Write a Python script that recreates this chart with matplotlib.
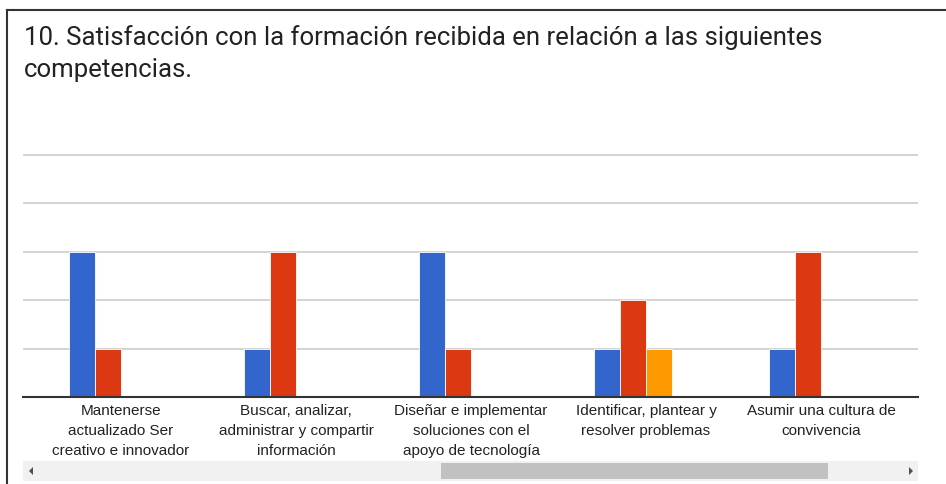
import matplotlib
matplotlib.use('Agg')
import matplotlib.pyplot as plt
from matplotlib.patches import Rectangle, Polygon
from matplotlib.lines import Line2D
import numpy as np

categories = ['Mantenerse\nactualizado Ser\ncreativo e innovador',
              'Buscar, analizar,\nadministrar y compartir\ninformación',
              'Diseñar e implementar\nsoluciones con el\napoyo de tecnología',
              'Identificar, plantear y\nresolver problemas',
              'Asumir una cultura de\nconvivencia']
blue_vals = [3, 1, 3, 1, 1]
red_vals = [1, 3, 1, 2, 3]
orange_vals = [0, 0, 0, 1, 0]
colors = ['#3366cc', '#dc3912', '#ff9900']

W, H = 946, 484
fig = plt.figure(figsize=(W / 100, H / 100), dpi=100)
fig.patch.set_facecolor('white')

# plot area in pixels (one unit = 48.4 px)
x0, x1 = 23, 918
y_top, y_base = 151, 397
unit = (y_base - 155) / 5
ax = fig.add_axes([x0 / W, 1 - y_base / H, (x1 - x0) / W, (y_base - y_top) / H])

x = np.arange(len(categories))
bw = 26 / 175
for k, (vals, c) in enumerate(zip([blue_vals, red_vals, orange_vals], colors)):
    ax.bar(x + (k - 1.5) * bw, vals, width=bw, color=c,
           edgecolor='white', linewidth=0.6, zorder=3)

first_center = (121 - x0) / 175
ax.set_xlim(-first_center, -first_center + (x1 - x0) / 175)
ax.set_ylim(0, (y_base - y_top) / unit)
ax.set_yticks([1, 2, 3, 4, 5])
ax.set_yticklabels([])
ax.grid(axis='y', color='#cccccc', linewidth=1.2, zorder=0)
ax.tick_params(length=0)
for s in ['top', 'right', 'left']:
    ax.spines[s].set_visible(False)
ax.spines['bottom'].set_color('#333333')
ax.spines['bottom'].set_linewidth(1.5)
ax.spines['bottom'].set_zorder(4)
ax.set_xticks(x)
ax.set_xticklabels(categories, fontsize=11, color='#222222', family='Liberation Sans',
                   linespacing=1.56, va='top')
ax.tick_params(axis='x', pad=5)

fig.text(24 / W, 1 - 25 / H, '10. Satisfacción con la formación recibida en relación a las siguientes\ncompetencias.',
         fontsize=18.5, family='Roboto', color='#222222', va='top', linespacing=1.42)

# frame lines
fig.add_artist(Line2D([7 / W, 7 / W], [0, 1 - 10 / H], color='#333333', linewidth=1.5))
fig.add_artist(Line2D([7 / W, 1], [1 - 10 / H, 1 - 10 / H], color='#333333', linewidth=1.5))

# scrollbar
fig.add_artist(Rectangle((x0 / W, 1 - 481 / H), (x1 - x0) / W, 20 / H, transform=fig.transFigure,
                         facecolor='#f1f1f1', edgecolor='none'))
fig.add_artist(Rectangle((441 / W, 1 - 479 / H), (828 - 441) / W, 16 / H, transform=fig.transFigure,
                         facecolor='#c1c1c1', edgecolor='none'))
fig.add_artist(Polygon([[29 / W, 1 - 471 / H], [33 / W, 1 - 467 / H], [33 / W, 1 - 475 / H]],
                       closed=True, transform=fig.transFigure, facecolor='#505050'))
fig.add_artist(Polygon([[913 / W, 1 - 471 / H], [909 / W, 1 - 467 / H], [909 / W, 1 - 475 / H]],
                       closed=True, transform=fig.transFigure, facecolor='#505050'))

fig.savefig('out.png', dpi=100)
